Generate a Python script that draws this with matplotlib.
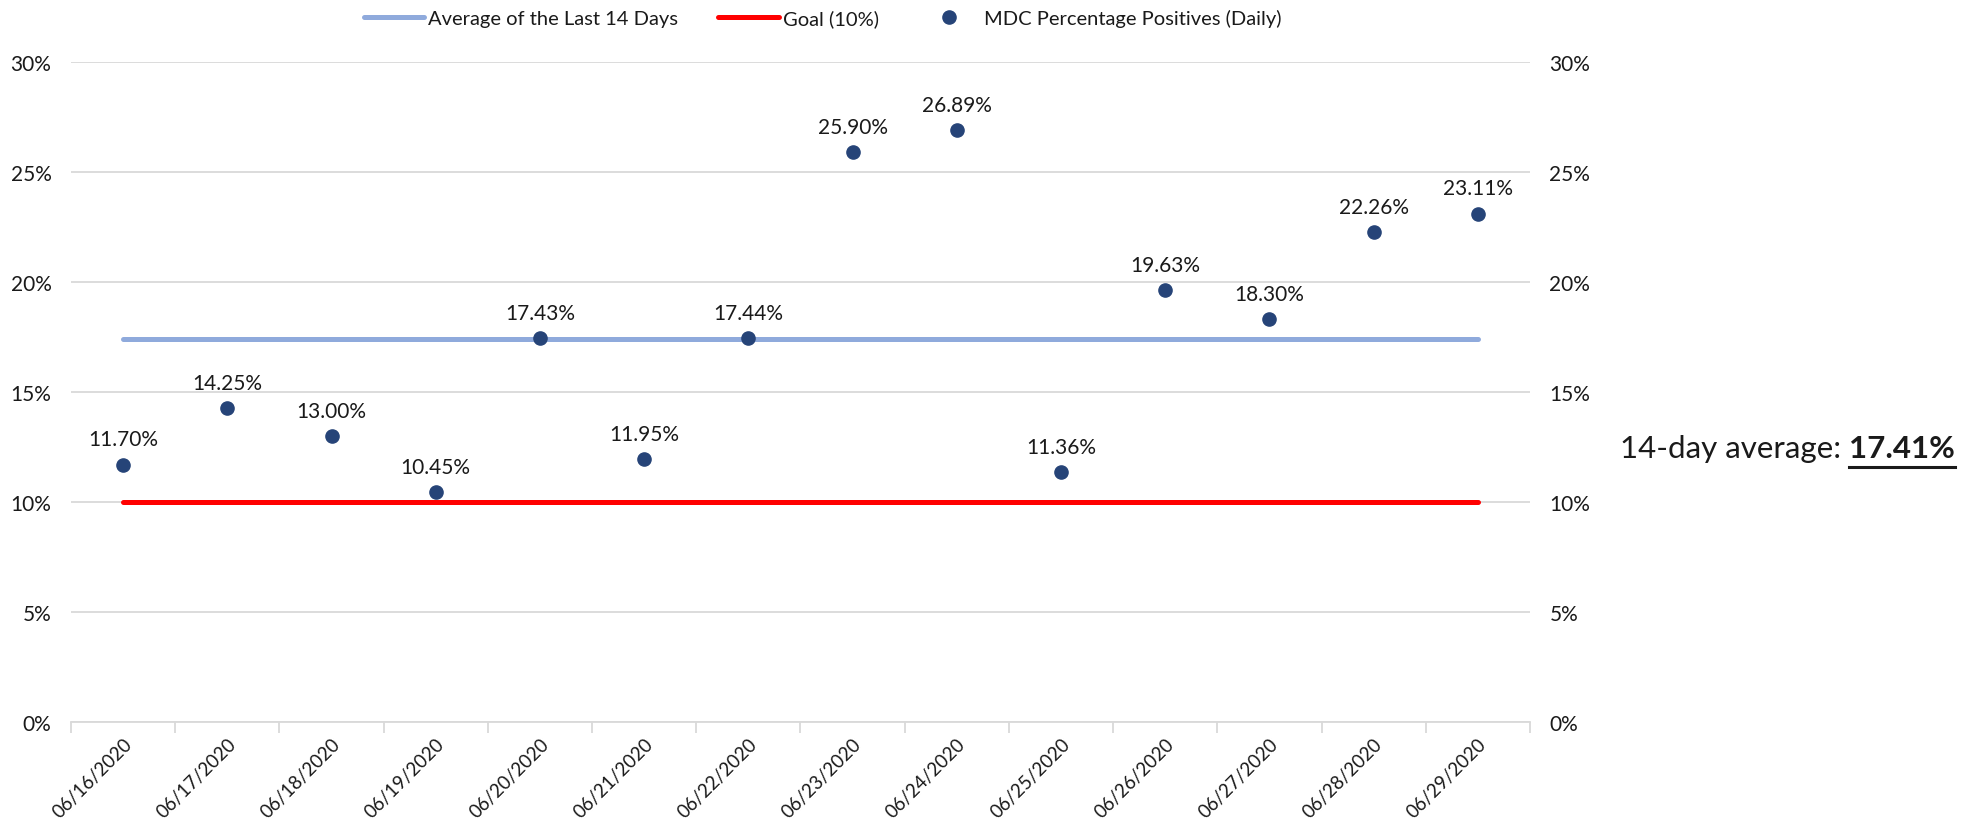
import matplotlib.pyplot as plt
from matplotlib.ticker import FixedLocator, PercentFormatter
from matplotlib.lines import Line2D

plt.rcParams['font.family'] = ['Lato', 'DejaVu Sans']

# data
dates = ['06/16/2020', '06/17/2020', '06/18/2020', '06/19/2020', '06/20/2020',
         '06/21/2020', '06/22/2020', '06/23/2020', '06/24/2020', '06/25/2020',
         '06/26/2020', '06/27/2020', '06/28/2020', '06/29/2020']
daily_pct = [11.70, 14.25, 13.00, 10.45, 17.43, 11.95, 17.44,
             25.90, 26.89, 11.36, 19.63, 18.30, 22.26, 23.11]
avg_14 = 17.41
goal = 10.0
y_ticks = [0, 5, 10, 15, 20, 25, 30]

grid_col = '#d9d9d9'
txt_col = '#1a1a1a'

fig = plt.figure(figsize=(19.77, 8.29), dpi=100)
ax = fig.add_axes([0.0359, 0.128, 0.738, 0.796])

x = list(range(len(dates)))
ax.plot([x[0], x[-1]], [avg_14, avg_14], color='#8faadc', lw=3.6,
        solid_capstyle='round', label='Average of the Last 14 Days', zorder=2)
ax.plot([x[0], x[-1]], [goal, goal], color='#ff0000', lw=3.6,
        solid_capstyle='round', label='Goal (10%)', zorder=2)
ax.plot(x, daily_pct, 'o', color='#264478', ms=9.5, lw=0,
        label='MDC Percentage Positives (Daily)', zorder=3)

for xi, v in zip(x, daily_pct):
    ax.annotate(f'{v:.2f}%', (xi, v), xytext=(0, 11), textcoords='offset points',
                ha='center', va='bottom', fontsize=15, color=txt_col)

ax.set_xlim(-0.5, len(dates) - 0.5)
ax.set_ylim(0, 30)
ax.set_yticks(y_ticks)
ax.yaxis.set_major_formatter(PercentFormatter(decimals=0))
ax.grid(axis='y', color=grid_col, lw=1.3)
ax.set_axisbelow(True)

# tick marks between categories, labels at the centres
ax.xaxis.set_major_locator(FixedLocator([i - 0.5 for i in range(len(dates) + 1)]))
ax.xaxis.set_minor_locator(FixedLocator(x))
ax.set_xticklabels([], minor=False)
ax.set_xticklabels(dates, minor=True, rotation=45, ha='right', va='top',
                   rotation_mode='anchor', fontsize=13.5, color=txt_col)
ax.tick_params(axis='x', which='major', length=8, color=grid_col, width=1.3)
ax.tick_params(axis='x', which='minor', length=0, pad=9)
ax.tick_params(axis='y', length=0, pad=14, labelsize=15, labelcolor=txt_col)

for s in ['top', 'right', 'left']:
    ax.spines[s].set_visible(False)
ax.spines['bottom'].set_color(grid_col)
ax.spines['bottom'].set_linewidth(1.3)

ax2 = ax.twinx()
ax2.set_ylim(0, 30)
ax2.set_yticks(y_ticks)
ax2.yaxis.set_major_formatter(PercentFormatter(decimals=0))
ax2.tick_params(axis='y', length=0, pad=14, labelsize=15, labelcolor=txt_col)
for s in ax2.spines.values():
    s.set_visible(False)

fig.legend(loc='center', bbox_to_anchor=(0.416, 0.977), ncol=3, frameon=False,
           fontsize=14.5, handlelength=3.0, handletextpad=0.2, columnspacing=2.0,
           labelcolor=txt_col)

# side note: plain part, then bold underlined value
base_y = 0.447
t1 = fig.text(0.8195, base_y, '14-day average: ', fontsize=22.5, color=txt_col, va='baseline')
fig.canvas.draw()
r = fig.canvas.get_renderer()
bb1 = t1.get_window_extent(r).transformed(fig.transFigure.inverted())
t2 = fig.text(bb1.x1, base_y, f'{avg_14:.2f}%', fontsize=22.5, fontweight='bold',
              color=txt_col, va='baseline')
bb2 = t2.get_window_extent(r).transformed(fig.transFigure.inverted())
uy = base_y - 0.011
fig.add_artist(Line2D([bb2.x0, bb2.x1], [uy, uy], transform=fig.transFigure,
                      color=txt_col, lw=2.2))

fig.savefig('out.png', dpi=100)
